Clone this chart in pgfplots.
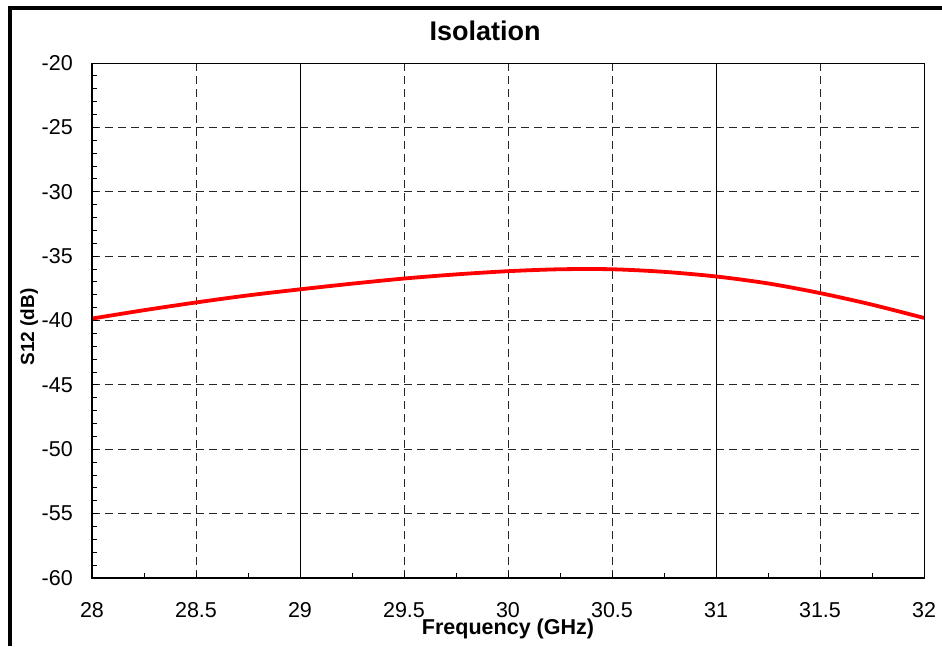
\documentclass[border=0pt]{standalone}
\usepackage{pgfplots}
\pgfplotsset{compat=1.18}
\usepackage{fontspec}
\setmainfont{Liberation Sans}
\begin{document}
\begin{tikzpicture}[x=1pt,y=1pt]
\path[use as bounding box] (0,0) rectangle (942,646);
\draw[line width=4pt] (9.7,0) -- (9.7,638) -- (944,638);
\begin{axis}[
  at={(92pt,68pt)}, anchor=south west,
  scale only axis, width=832pt, height=515pt,
  xmin=28, xmax=32, ymin=-60, ymax=-20,
  xtick={28,28.5,...,32}, ytick={-60,-55,...,-20},
  minor x tick num=1, minor y tick num=4,
  tick align=inside, xtick pos=bottom, ytick pos=left,
  major tick length=6pt, minor tick length=5pt,
  every tick/.style={black, line width=0.8pt},
  grid=major,
  major grid style={dash pattern=on 8pt off 5pt, black!85, line width=0.9pt},
  axis line style={black, line width=1pt},
  /pgf/number format/assume math mode=true,
  /pgf/number format/fixed,
  xticklabel style={font=\fontsize{21.5}{21.5}\selectfont, anchor=north, inner sep=0pt, yshift=-24pt},
  yticklabel style={font=\fontsize{21.5}{21.5}\selectfont, anchor=east, inner sep=0pt, xshift=-19pt},
  extra x ticks={29,31},
  extra x tick labels={},
  extra x tick style={grid=major, major grid style={solid, black, line width=1pt}},
]
\addplot[red, line width=3.8pt, smooth] coordinates {
(28.00,-39.85)
(28.25,-39.20)
(28.50,-38.60)
(28.75,-38.05)
(29.00,-37.58)
(29.25,-37.14)
(29.50,-36.74)
(29.75,-36.42)
(30.00,-36.17)
(30.25,-36.02)
(30.50,-36.02)
(30.75,-36.22)
(31.00,-36.58)
(31.25,-37.12)
(31.50,-37.87)
(31.75,-38.77)
(32.00,-39.80)
};
\draw[black, line width=2pt] (rel axis cs:0,1) -- (rel axis cs:0,0) -- (rel axis cs:1,0);
\end{axis}
\node[anchor=base, font=\fontsize{27}{27}\selectfont\bfseries] at (485,605) {Isolation};
\node[anchor=base, font=\fontsize{21.5}{21.5}\selectfont\bfseries] at (508,12) {Frequency (GHz)};
\node[anchor=base, rotate=90, font=\fontsize{19}{19}\selectfont\bfseries] at (34,319) {S12 (dB)};
\end{tikzpicture}
\end{document}
